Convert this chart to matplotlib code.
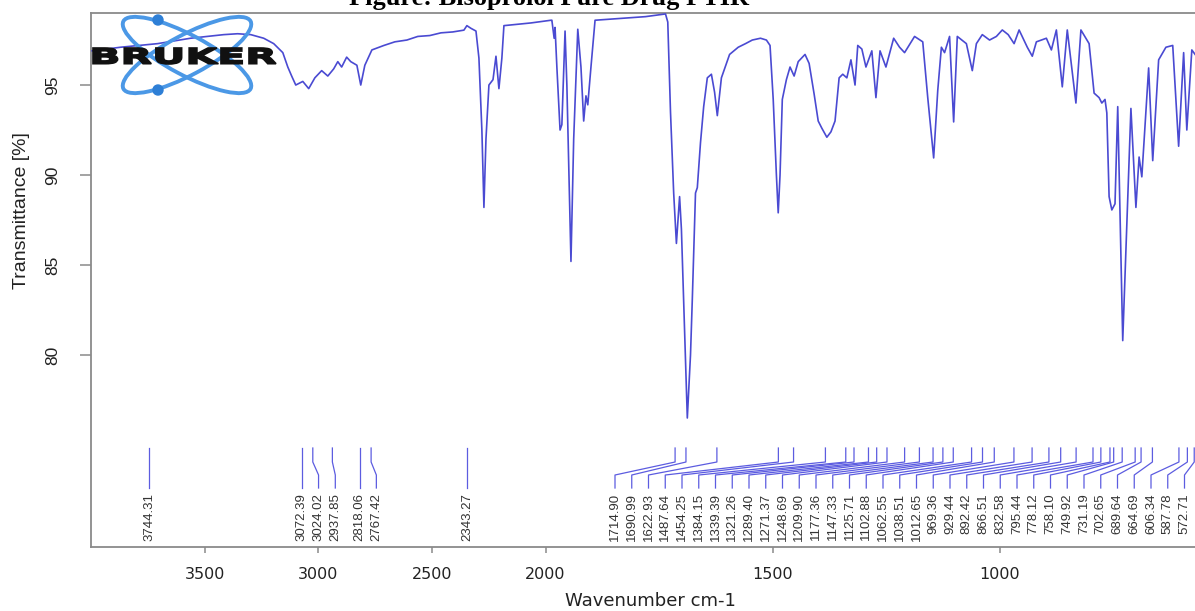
import numpy as np
import matplotlib
matplotlib.use("Agg")
import matplotlib.pyplot as plt
from matplotlib.patches import Ellipse, Circle, PathPatch
from matplotlib.textpath import TextPath
from matplotlib.font_manager import FontProperties
from matplotlib.transforms import Affine2D

# spectrum: wavenumber (cm-1) and transmittance (%)
wavenumber = [3995, 3870, 3707, 3562, 3487, 3416, 3355, 3297, 3240, 3196,
              3156, 3134, 3117, 3099, 3068, 3042, 3015, 2985, 2958, 2932,
              2914, 2897, 2875, 2857, 2830, 2813, 2795, 2764, 2711, 2663,
              2610, 2562, 2509, 2460, 2408, 2359, 2346, 2328, 2306, 2293,
              2280, 2271, 2262, 2249, 2231, 2218, 2205, 2192, 2183, 2064,
              1988, 1986, 1981, 1979, 1975, 1968, 1964, 1957, 1953, 1944,
              1938, 1929, 1922, 1916, 1911, 1907, 1900, 1891, 1834, 1780,
              1736, 1731, 1725, 1718, 1712, 1705, 1701, 1688, 1681, 1677,
              1670, 1666, 1659, 1652, 1644, 1635, 1628, 1622, 1613, 1595,
              1576, 1560, 1545, 1527, 1514, 1506, 1499, 1492, 1488, 1484,
              1479, 1470, 1462, 1453, 1444, 1429, 1420, 1409, 1400, 1392,
              1381, 1372, 1363, 1354, 1346, 1337, 1328, 1319, 1313, 1304,
              1295, 1282, 1273, 1264, 1251, 1234, 1221, 1210, 1188, 1170,
              1159, 1146, 1137, 1129, 1122, 1111, 1102, 1094, 1074, 1061,
              1052, 1039, 1023, 1008, 995, 982, 969, 958, 940, 929,
              920, 898, 887, 876, 863, 852, 833, 822, 804, 793,
              782, 776, 769, 765, 760, 754, 747, 741, 730, 712,
              701, 694, 688, 673, 664, 651, 635, 620, 607, 596,
              589, 578, 565]
transmittance = [96.9, 97.1, 97.3, 97.6, 97.7, 97.8, 97.85, 97.8, 97.6, 97.3,
                 96.8, 96.0, 95.5, 95.0, 95.2, 94.8, 95.4, 95.8, 95.5, 95.9,
                 96.3, 96.0, 96.55, 96.3, 96.1, 95.0, 96.1, 96.95, 97.2, 97.4,
                 97.5, 97.7, 97.75, 97.9, 97.95, 98.05, 98.3, 98.15, 98.0, 96.5,
                 92.5, 88.2, 92.0, 95.0, 95.3, 96.6, 94.8, 96.5, 98.3, 98.45,
                 98.6, 98.6, 97.6, 98.2, 96.0, 92.5, 92.8, 98.0, 95.0, 85.2,
                 92.0, 98.1, 96.0, 93.0, 94.4, 93.9, 96.0, 98.6, 98.7, 98.8,
                 98.95, 98.5, 93.5, 89.0, 86.2, 88.8, 87.0, 76.5, 80.0, 83.1,
                 89.0, 89.3, 91.8, 93.8, 95.4, 95.6, 94.6, 93.3, 95.4, 96.7,
                 97.1, 97.3, 97.5, 97.6, 97.5, 97.2, 94.2, 90.0, 87.9, 90.0,
                 94.2, 95.3, 96.0, 95.5, 96.3, 96.7, 96.2, 94.5, 93.0, 92.6,
                 92.1, 92.4, 93.0, 95.4, 95.6, 95.4, 96.4, 95.0, 97.2, 97.0,
                 96.0, 96.9, 94.3, 96.9, 96.0, 97.6, 97.1, 96.8, 97.7, 97.4,
                 94.3, 90.95, 94.7, 97.1, 96.8, 97.7, 92.95, 97.7, 97.3, 95.8,
                 97.3, 97.8, 97.5, 97.7, 98.06, 97.8, 97.3, 98.06, 97.1, 96.6,
                 97.4, 97.6, 96.95, 98.06, 94.9, 98.06, 94.0, 98.06, 97.3, 94.55,
                 94.3, 94.0, 94.2, 93.45, 88.8, 88.06, 88.4, 93.8, 80.8, 93.7,
                 88.2, 91.0, 89.9, 95.95, 90.8, 96.4, 97.1, 97.2, 91.6, 96.8,
                 92.5, 96.95, 96.5]

# picked peaks (cm-1)
peak_wn = [3744.31, 3072.39, 3024.02, 2937.85, 2818.06, 2767.42, 2343.27,
           1714.90, 1690.99, 1622.93, 1487.64, 1454.25, 1384.15, 1339.39,
           1321.26, 1289.40, 1271.37, 1248.69, 1209.90, 1177.36, 1147.33,
           1125.71, 1102.88, 1062.55, 1038.51, 1012.65, 969.36, 929.44,
           892.42, 866.51, 832.58, 795.44, 778.12, 758.10, 749.92, 731.19,
           702.65, 689.64, 664.69, 606.34, 587.78, 572.71]

x_ticks = [3500, 3000, 2500, 2000, 1500, 1000]
y_ticks = [80, 85, 90, 95]

title = "Figure: Bisoprolol Pure Drug FTIR"
x_label = "Wavenumber cm-1"
y_label = "Transmittance [%]"

W, H = 1195, 611
BREAK = 2000.0   # below this the axis is stretched twice
K = 2.0


def fwd(w):
    w = np.asarray(w, dtype=float)
    return np.where(w >= BREAK, w, BREAK - K * (BREAK - w))


def inv(t):
    t = np.asarray(t, dtype=float)
    return np.where(t >= BREAK, t, BREAK - (BREAK - t) / K)


def img_in(x, y):
    # image pixel (top-left origin) -> inches for dpi_scale_trans
    return (x / 100.0, (H - y) / 100.0)


def row_to_T(py):
    # image row -> transmittance value
    return 95 + (85 - py) / 18.0


def main():
    fig = plt.figure(figsize=(W / 100, H / 100), dpi=100)
    ax = fig.add_axes([91 / W, 1 - 546.7 / H, 1109 / W, 534.2 / H])
    ax.set_xscale('function', functions=(fwd, inv))
    ax.set_xlim(4000, 560)
    ax.set_ylim(69.35, 99.03)

    ax.plot(wavenumber, transmittance, color='#4a4ad2', lw=1.2, zorder=3)

    # frame
    for s in ('left', 'top', 'bottom'):
        ax.spines[s].set_color('#8a8a8a')
        ax.spines[s].set_linewidth(1.3)
    ax.spines['right'].set_visible(False)

    ax.set_xticks(x_ticks)
    ax.set_xticklabels([str(v) for v in x_ticks], family='DejaVu Sans', fontsize=11.5, color='#222222')
    ax.xaxis.set_minor_locator(matplotlib.ticker.NullLocator())
    ax.tick_params(axis='x', length=4.3, width=1.1, color='#8a8a8a', pad=10.5)

    ax.set_yticks(y_ticks)
    ax.set_yticklabels([str(v) for v in y_ticks], rotation=90, va='center',
                       family='Liberation Sans', fontsize=12.5, color='#222222')
    ax.tick_params(axis='y', length=8, width=1.1, color='#8a8a8a', pad=14)

    # peak labels with leader lines
    to_px = lambda w: ax.transData.transform((w, 80))[0]
    from_px = lambda p: ax.transData.inverted().transform((p, 80))[0]
    gap = 16.75
    slots = []
    prev = -1e9
    right_i = 0
    for w in peak_wn:
        if w > BREAK:
            p = max(to_px(w), prev + gap)
            prev = p
        else:
            p = 615 + right_i * gap
            right_i += 1
        slots.append(p)

    y0, y1, y2, y3, yt = row_to_T(448), row_to_T(462), row_to_T(475), row_to_T(488), row_to_T(493)
    for w, s in zip(peak_wn, slots):
        sw = float(from_px(s))
        ax.plot([w, w, sw, sw], [y0, y1, y2, y3], color='#5c5ce0', lw=0.9, zorder=2)
        ax.text(sw, yt, f"{w:.2f}", rotation=90, ha='center', va='top',
                fontsize=9.5, family='Liberation Sans', color='#333333')

    # texts
    fig.text(549 / W, 1 - 5 / H, title, ha='center', va='baseline',
             fontsize=19, family='Liberation Serif', weight='bold')
    fig.text(650 / W, 1 - 601 / H, x_label, ha='center', va='center',
             fontsize=13, family='DejaVu Sans', color='#222222')
    fig.text(22 / W, 1 - 211 / H, y_label, ha='center', va='center', rotation=90,
             fontsize=14, family='Liberation Sans', color='#222222')

    # Bruker logo
    for ang in (-28, 28):
        fig.add_artist(Ellipse(img_in(187, 55), 1.44, 0.40, angle=ang, fill=False,
                               ec='#4b98e6', lw=2.8, transform=fig.dpi_scale_trans))
    for yy in (20, 90):
        fig.add_artist(Circle(img_in(158, yy), 0.05, color='#2e7fd6',
                              transform=fig.dpi_scale_trans))
    tp = TextPath((0, 0), "BRUKER", size=1,
                  prop=FontProperties(family='DejaVu Sans', weight='bold'))
    ext = tp.get_extents()
    bx0, by0 = img_in(93, 64)
    bx1, by1 = img_in(276, 48)
    tr = (Affine2D().translate(-ext.x0, -ext.y0)
          .scale((bx1 - bx0) / ext.width, (by1 - by0) / ext.height)
          .translate(bx0, by0))
    fig.add_artist(PathPatch(tr.transform_path(tp), fc='#111111', ec='#111111', lw=1.2,
                             transform=fig.dpi_scale_trans))

    fig.savefig('out.png', dpi=100)


if __name__ == '__main__':
    main()
